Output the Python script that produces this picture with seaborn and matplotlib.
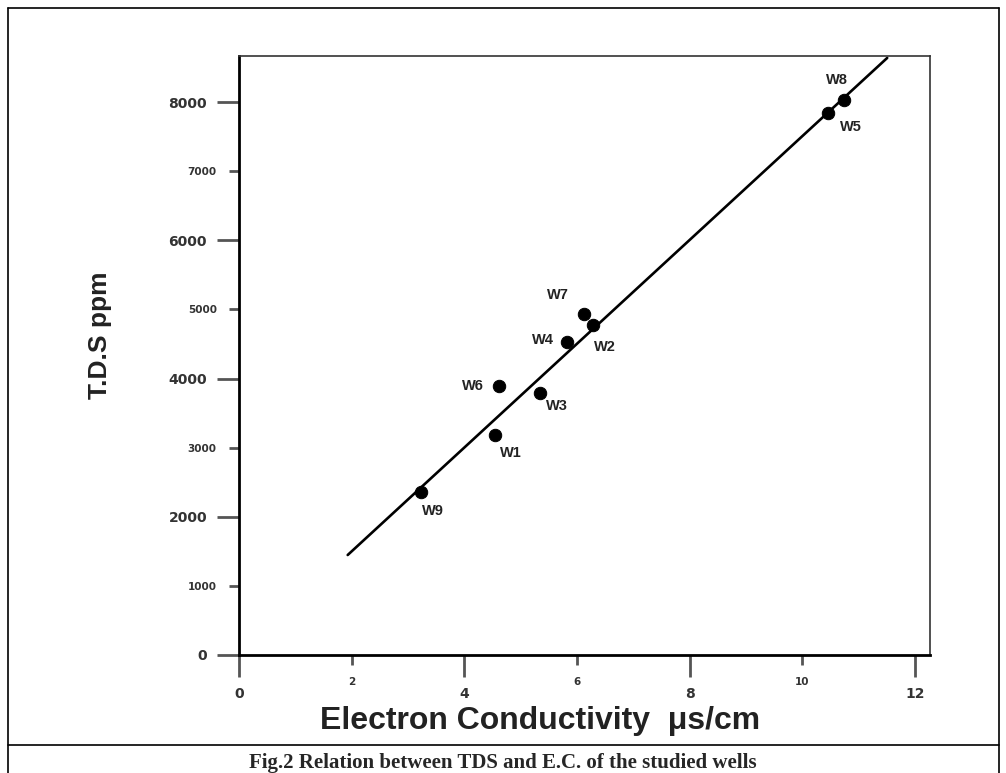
import numpy as np
import pandas as pd
import matplotlib
matplotlib.use("Agg")
import matplotlib.pyplot as plt
from matplotlib.lines import Line2D
import seaborn as sns

# values
wells = ['W1', 'W2', 'W3', 'W4', 'W5', 'W6', 'W7', 'W8', 'W9']
ec = [4.55, 6.28, 5.35, 5.82, 10.46, 4.62, 6.13, 10.75, 3.23]       # us/cm
tds = [3184, 4776, 3787, 4525, 7850, 3893, 4941, 8032, 2360]       # ppm

# fitted line end points
fit_x = [1.93, 11.51]
fit_y = [1447, 8640]

x_major = [0, 4, 8, 12]
x_minor = [2, 6, 10]
y_major = [0, 2000, 4000, 6000, 8000]
y_minor = [1000, 3000, 5000, 7000]

df = pd.DataFrame({'well': wells, 'ec': ec, 'tds': tds})
fit = pd.DataFrame({'ec': fit_x, 'tds': fit_y})

sns.set_style("white")
plt.rcParams['font.family'] = ['Liberation Sans', 'DejaVu Sans']

fig = plt.figure(figsize=(10.06, 7.73), dpi=100)
ax = fig.add_axes([239 / 1006, 118 / 773, 691 / 1006, 599 / 773])

sns.lineplot(data=fit, x='ec', y='tds', color='black', linewidth=1.9, ax=ax)
sns.scatterplot(data=df, x='ec', y='tds', color='black', s=80, edgecolor='black', ax=ax, zorder=3)

# label offsets in pixels (right, down)
offsets = {'W1': (16, 18), 'W2': (12, 22), 'W3': (17, 13), 'W4': (-24, -2), 'W5': (23, 14),
           'W6': (-26, 0), 'W7': (-26, -19), 'W8': (-7, -20), 'W9': (12, 19)}
for w, x, y in zip(wells, ec, tds):
    dx, dy = offsets[w]
    ax.annotate(w, (x, y), xytext=(dx * 0.72, -dy * 0.72), textcoords='offset points',
                ha='center', va='center', fontsize=10.5, fontweight='bold', color='#222222')

ax.set_xlim(0, 12.27)
ax.set_ylim(0, 8668)
ax.set_xticks(x_major)
ax.set_xticks(x_minor, minor=True)
ax.set_xticklabels([str(v) for v in x_major])
ax.set_xticklabels([str(v) for v in x_minor], minor=True)
ax.set_yticks(y_major)
ax.set_yticks(y_minor, minor=True)
ax.set_yticklabels([str(v) for v in y_major])
ax.set_yticklabels([str(v) for v in y_minor], minor=True)

ax.tick_params(which='both', bottom=True, left=True, top=False, right=False)
ax.tick_params(which='major', direction='out', length=16, width=2, color='#555555',
               pad=7, labelsize=10, labelcolor='#333333')
ax.tick_params(which='minor', direction='out', length=7, width=2, color='#555555',
               pad=9, labelsize=7.5, labelcolor='#333333')
for lab in ax.get_xticklabels(which='both') + ax.get_yticklabels(which='both'):
    lab.set_fontweight('bold')
    lab.set_family(['DejaVu Sans'])

for s in ['left', 'bottom']:
    ax.spines[s].set_linewidth(2)
    ax.spines[s].set_color('black')
for s in ['top', 'right']:
    ax.spines[s].set_linewidth(1.2)
    ax.spines[s].set_color('#333333')

ax.set_xlabel('Electron Conductivity  μs/cm', fontsize=23, fontweight='bold', color='#222222')
ax.set_ylabel('T.D.S ppm', fontsize=19, fontweight='bold', color='#222222')
ax.xaxis.label.set_va('center')
ax.yaxis.label.set_va('center')
ax.xaxis.set_label_coords(0.436, -0.11)
ax.yaxis.set_label_coords(-0.201, 0.533)

# table-like frame around figure and caption
frame = dict(color='black', linewidth=1.2, transform=fig.transFigure)
L, R, T, S = 8 / 1006, 999 / 1006, 1 - 8 / 773, 1 - 745 / 773
fig.add_artist(Line2D([L, R], [T, T], **frame))
fig.add_artist(Line2D([L, R], [S, S], **frame))
fig.add_artist(Line2D([L, L], [0, T], **frame))
fig.add_artist(Line2D([R, R], [0, T], **frame))

fig.text(0.5, 1 - 763 / 773, 'Fig.2 Relation between TDS and E.C. of the studied wells',
         ha='center', va='center', fontsize=15, fontweight='bold',
         family=['Liberation Serif', 'DejaVu Serif'])

fig.savefig('out.png', dpi=100)
